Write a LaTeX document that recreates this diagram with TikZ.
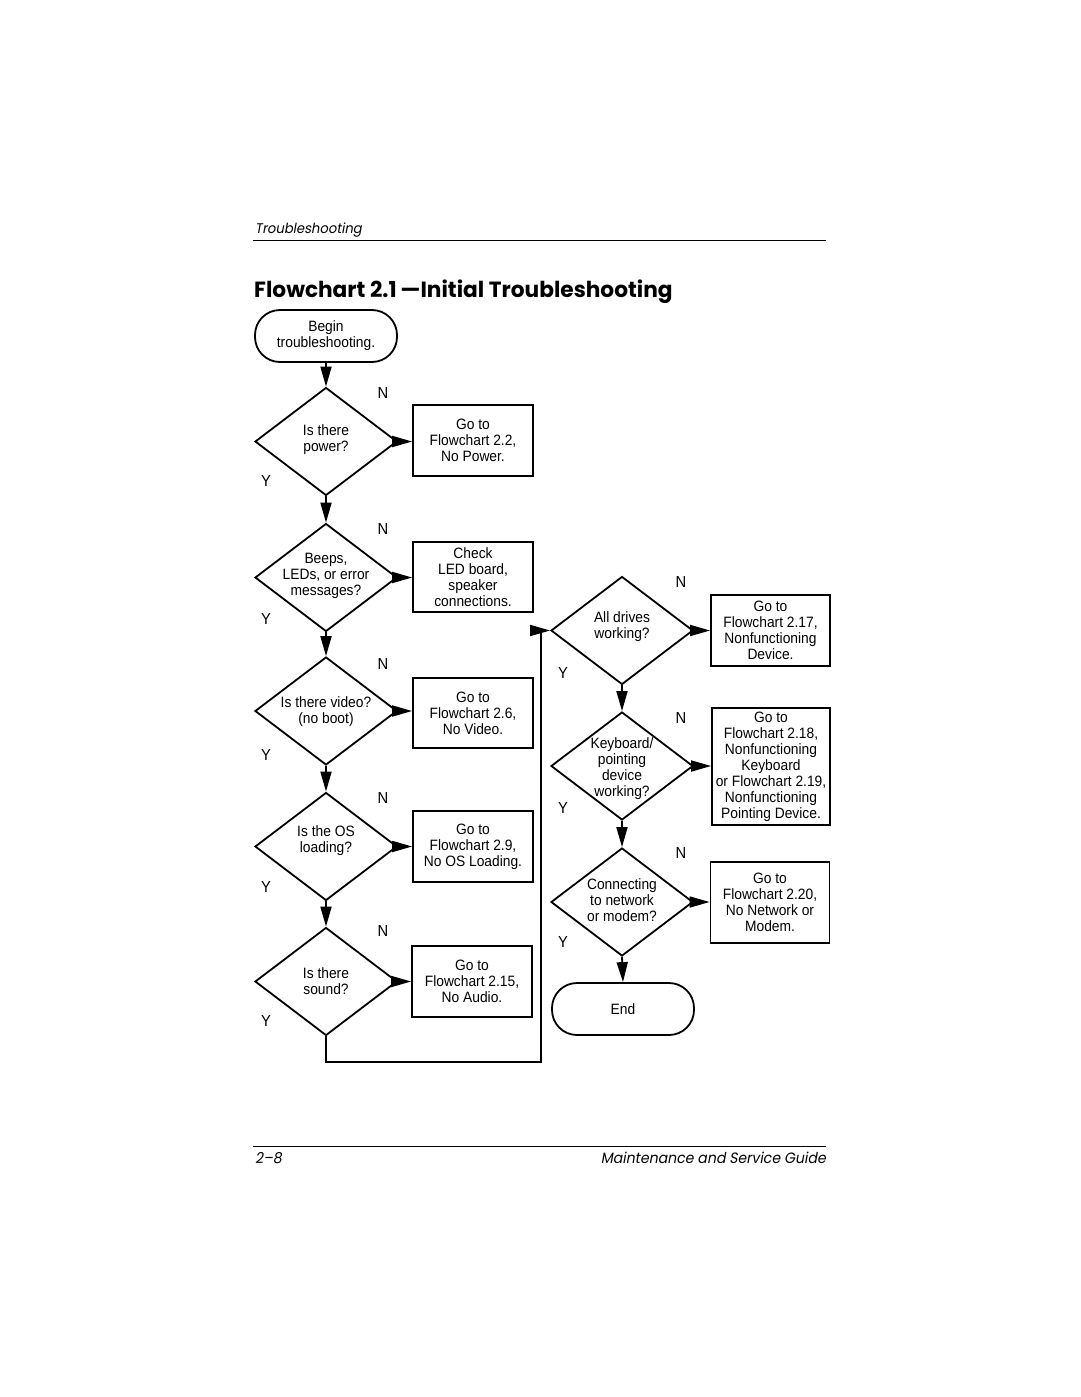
\documentclass[tikz,border=0pt]{standalone}
\usepackage{fontspec}
\usetikzlibrary{shapes.geometric,arrows.meta}
\newfontfamily\fcfont{Liberation Sans}[FakeStretch=0.92]
\newfontfamily\ttlfont{Poppins}[FakeStretch=0.985]
\newfontfamily\hdfont{Poppins}[FakeSlant=0.18,FakeStretch=0.94]
\begin{document}
\begin{tikzpicture}[x=1pt,y=-1pt,
  ln/.style={line width=1.8pt},
  arr/.style={ln,-{Triangle[length=20pt,width=11pt]}},
  fc/.style={font=\fcfont\fontsize{15}{16}\selectfont},
  dia/.style={draw,ln,diamond,minimum width=142pt,minimum height=108pt,inner sep=0pt},
  dtext/.style={fc,align=center,inner sep=0pt},
  box/.style={draw,ln,rectangle,minimum width=120pt,minimum height=71pt,inner sep=0pt,align=center,fc},
  term/.style={draw,ln,rectangle,rounded corners=25pt,minimum width=142pt,minimum height=52pt,inner sep=0pt,align=center,fc},
  yn/.style={font=\fcfont\fontsize{16}{16}\selectfont,inner sep=0pt},
  hd/.style={font=\hdfont\fontsize{14}{16}\selectfont,inner sep=0pt},
  ft/.style={font=\hdfont\fontsize{15}{16}\selectfont,inner sep=0pt},
  ttl/.style={font=\ttlfont\bfseries\fontsize{22}{24}\selectfont,inner sep=0pt}
]
\useasboundingbox[fill=white] (0,0) rectangle (1080,1397);

% header / footer
\node[hd,anchor=base west] (hdr) at (255,233) {Troubleshooting};
\draw[line width=0.9pt] (253,240.5) -- (826,240.5);
\node[ttl,anchor=base west] (title) at (254,297) {Flowchart 2.1\,—Initial Troubleshooting};
\draw[line width=0.9pt] (253,1146) -- (826,1146);
\node[ft,anchor=base west] (pg) at (255,1163) {2–8};
\node[ft,anchor=base east] (guide) at (826,1163) {Maintenance and Service Guide};

% left column
\node[term] (bg) at (326,336) {Begin\\troubleshooting.};

\node[dia] (d1) at (326,441.5) {};
\node[dtext] (t1) at (326,440) {Is there\\power?};
\node[box] (b1) at (473,440.5) {Go to\\Flowchart 2.2,\\No Power.};

\node[dia] (d2) at (326,577.5) {};
\node[dtext] (t2) at (326,576) {Beeps,\\LEDs, or error\\messages?};
\node[box,minimum height=70pt] (b2) at (473,577) {Check\\LED board,\\speaker\\connections.};

\node[dia] (d3) at (326,711) {};
\node[dtext] (t3) at (326,712) {Is there video?\\(no boot)};
\node[box,minimum height=70pt] (b3) at (473,713) {Go to\\Flowchart 2.6,\\No Video.};

\node[dia] (d4) at (326,846.5) {};
\node[dtext] (t4) at (326,841) {Is the OS\\loading?};
\node[box] (b4) at (473,846.5) {Go to\\Flowchart 2.9,\\No OS Loading.};

\node[dia] (d5) at (326,981.5) {};
\node[dtext] (t5) at (326,981) {Is there\\sound?};
\node[box] (b5) at (472,981.5) {Go to\\Flowchart 2.15,\\No Audio.};

% right column
\node[dia] (d6) at (622,630.5) {};
\node[dtext] (t6) at (622,627) {All drives\\working?};
\node[box,minimum width=119pt] (b6) at (770.5,630.5) {Go to\\Flowchart 2.17,\\Nonfunctioning\\Device.};

\node[dia] (d7) at (622,766) {};
\node[dtext] (t7) at (622,769) {Keyboard/\\pointing\\device\\working?};
\node[box,minimum width=118pt,minimum height=117pt] (b7) at (771,766.5) {Go to\\Flowchart 2.18,\\Nonfunctioning\\Keyboard\\or Flowchart 2.19,\\Nonfunctioning\\Pointing Device.};

\node[dia] (d8) at (622,902) {};
\node[dtext] (t8) at (622,900) {Connecting\\to network\\or modem?};
\node[box,minimum width=119pt,minimum height=81pt] (b8) at (770,902.5) {Go to\\Flowchart 2.20,\\No Network or\\Modem.};

\node[term] (en) at (623,1009) {End};

% Y / N labels
\foreach \nm/\x/\y in {n1/383/393, n2/383/529, n3/383/664, n4/383/798, n5/383/931, n6/681/582, n7/681/718, n8/681/853}
  \node[yn] (\nm) at (\x,\y) {N};
\foreach \nm/\x/\y in {y1/266/481, y2/266/619, y3/266/755, y4/266/887, y5/266/1021, y6/563/673, y7/563/808, y8/563/942}
  \node[yn] (\nm) at (\x,\y) {Y};

% connectors
\draw[arr] (bg.south) -- (d1.north);
\draw[arr] (d1.south) -- (d2.north);
\draw[arr] (d2.south) -- (d3.north);
\draw[arr] (d3.south) -- (d4.north);
\draw[arr] (d4.south) -- (d5.north);
\foreach \d/\b in {d1/b1, d2/b2, d3/b3, d4/b4, d5/b5, d6/b6, d7/b7, d8/b8}
  \draw[arr] (\d.east) -- (\d.east -| \b.west);
\coordinate (c2) at (541,1062);
\draw[arr] (d5.south) |- (c2) |- (d6.west);
\draw[arr] (d6.south) -- (d7.north);
\draw[arr] (d7.south) -- (d8.north);
\draw[arr] (d8.south) -- (en.north);
\end{tikzpicture}
\end{document}
